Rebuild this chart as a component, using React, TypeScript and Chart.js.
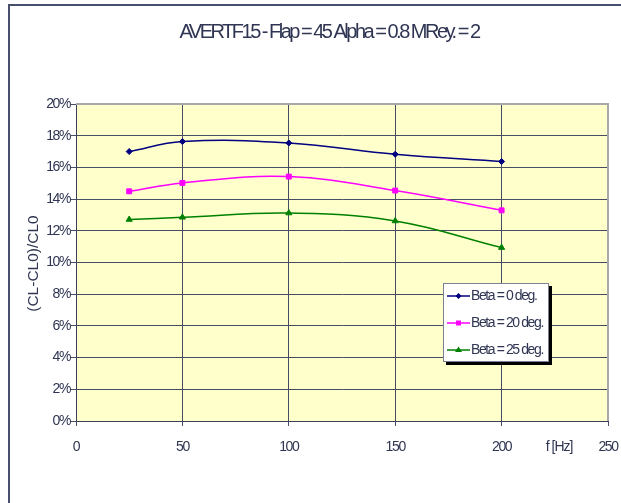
import React, { useEffect, useRef } from 'react';
import { Chart, registerables } from 'chart.js';

Chart.register(...registerables);

// ---- data ----
const freqs = [25, 50, 100, 150, 200];
const beta0 = [0.170, 0.1763, 0.1754, 0.1683, 0.1637];
const beta20 = [0.1449, 0.1502, 0.1542, 0.1454, 0.1329];
const beta25 = [0.1271, 0.1285, 0.1312, 0.1262, 0.1094];
const seriesLabels = ['Beta = 0 deg.', 'Beta = 20 deg.', 'Beta = 25 deg.'];
const seriesColors = ['#000080', '#FF00FF', '#008000'];
const seriesMarkers = ['rectRot', 'rect', 'triangle'];
const titleText = 'AVERTF15 - Flap = 45 Alpha = 0.8 MRey. = 2';
const yTitleText = '(CL-CL0)/CL0';
const xTitleText = 'f [Hz]';

const TEXT = '#2F3552';
const GRID = '#474D63';
const FONT = '"Liberation Sans", Arial, sans-serif';

function drawMarker(ctx: CanvasRenderingContext2D, kind: string, x: number, y: number, color: string) {
  ctx.fillStyle = color;
  ctx.beginPath();
  if (kind === 'rectRot') {
    const r = 3;
    ctx.moveTo(x, y - r); ctx.lineTo(x + r, y); ctx.lineTo(x, y + r); ctx.lineTo(x - r, y);
  } else if (kind === 'rect') {
    const s = 2.5;
    ctx.rect(x - s, y - s, 2 * s, 2 * s);
  } else {
    const r = 3.5;
    ctx.moveTo(x, y - r); ctx.lineTo(x + r, y + r * 0.6); ctx.lineTo(x - r, y + r * 0.6);
  }
  ctx.closePath();
  ctx.fill();
}

const decorPlugin = {
  id: 'decor',
  beforeDraw(chart: any) {
    const { ctx, chartArea: a } = chart;
    ctx.save();
    ctx.fillStyle = '#FFFFFF';
    ctx.fillRect(0, 0, chart.width, chart.height);
    ctx.fillStyle = '#48506E';
    ctx.fillRect(8, 4, chart.width - 8, 2);
    ctx.fillRect(8, 4, 2, chart.height - 4);
    ctx.fillStyle = '#FFFFCC';
    ctx.fillRect(a.left, a.top, a.right - a.left, a.bottom - a.top);
    ctx.restore();
    (ctx as any).letterSpacing = '-1.4px';
  },
  afterDraw(chart: any) {
    const { ctx, chartArea: a, scales } = chart;
    ctx.save();
    // gray top/right border of plot
    ctx.fillStyle = '#A8A8A8';
    ctx.fillRect(a.left, a.top - 1, a.right - a.left + 1, 2);
    ctx.fillRect(a.right - 1, a.top - 1, 2, a.bottom - a.top + 1);

    // title
    (ctx as any).letterSpacing = '-2.5px';
    ctx.font = `20px ${FONT}`;
    ctx.fillStyle = TEXT;
    ctx.textAlign = 'center';
    ctx.textBaseline = 'alphabetic';
    ctx.fillText(titleText, 329, 38);

    // x axis title next to tick labels
    (ctx as any).letterSpacing = '-1px';
    ctx.font = `14px ${FONT}`;
    ctx.textBaseline = 'middle';
    ctx.fillText(xTitleText, scales.x.getPixelForValue(227), 447.5);

    // y axis title
    (ctx as any).letterSpacing = '0px';
    ctx.save();
    ctx.translate(33.5, (a.top + a.bottom) / 2 + 1);
    ctx.rotate(-Math.PI / 2);
    ctx.font = `15.5px ${FONT}`;
    ctx.textAlign = 'center';
    ctx.textBaseline = 'middle';
    ctx.fillText(yTitleText, 0, 0);
    ctx.restore();

    // legend
    const lx = 443, ly = 283, lw = 106, lh = 79;
    ctx.fillStyle = '#000000';
    ctx.fillRect(lx + 3, ly + 3, lw, lh);
    ctx.fillStyle = '#FFFFFF';
    ctx.fillRect(lx, ly, lw, lh);
    ctx.strokeStyle = '#7C8094';
    ctx.lineWidth = 1;
    ctx.strokeRect(lx + 0.5, ly + 0.5, lw - 1, lh - 1);
    (ctx as any).letterSpacing = '-1.4px';
    ctx.font = `14px ${FONT}`;
    ctx.textAlign = 'left';
    ctx.textBaseline = 'middle';
    for (let i = 0; i < seriesLabels.length; i++) {
      const y = ly + 13 + i * 27;
      ctx.strokeStyle = seriesColors[i];
      ctx.lineWidth = 1.5;
      ctx.beginPath();
      ctx.moveTo(lx + 4, y);
      ctx.lineTo(lx + 27, y);
      ctx.stroke();
      drawMarker(ctx, seriesMarkers[i], lx + 15.5, y, seriesColors[i]);
      ctx.fillStyle = TEXT;
      ctx.fillText(seriesLabels[i], lx + 28, y);
    }
    ctx.restore();
  },
};

export default function App() {
  const ref = useRef<HTMLCanvasElement | null>(null);
  useEffect(() => {
    if (!ref.current) return;
    const seriesValues = [beta0, beta20, beta25];
    const chart = new Chart(ref.current, {
      type: 'line',
      data: {
        datasets: seriesValues.map((vals, i) => ({
          label: seriesLabels[i],
          data: freqs.map((f, j) => ({ x: f, y: vals[j] })),
          borderColor: seriesColors[i],
          backgroundColor: seriesColors[i],
          borderWidth: 1.5,
          tension: 0.4,
          pointStyle: seriesMarkers[i] as any,
          pointRadius: i === 0 ? 3 : 3.5,
          pointBorderWidth: 1,
          fill: false,
        })),
      },
      options: {
        responsive: false,
        animation: false,
        devicePixelRatio: 1,
        layout: { padding: { left: 0, right: 13, top: 104, bottom: 0 } },
        plugins: {
          legend: { display: false },
          title: { display: false },
          tooltip: { enabled: false },
        },
        scales: {
          x: {
            type: 'linear',
            min: 0,
            max: 250,
            afterFit: (s: any) => { s.height = 82; s.paddingLeft = 0; s.paddingRight = 0; },
            ticks: { stepSize: 50, color: TEXT, font: { family: FONT, size: 14 }, padding: 13, maxRotation: 0 },
            grid: { color: GRID, lineWidth: 1, tickLength: 5, drawTicks: true },
            border: { color: '#3A4058', width: 1 },
          },
          y: {
            type: 'linear',
            min: 0,
            max: 0.2,
            afterFit: (s: any) => { s.width = 76; s.paddingTop = 0; s.paddingBottom = 0; },
            ticks: {
              stepSize: 0.02,
              color: TEXT,
              font: { family: FONT, size: 14 },
              padding: 1,
              callback: (v: any) => Math.round(Number(v) * 100) + '%',
            },
            grid: { color: GRID, lineWidth: 1, tickLength: 5, drawTicks: true },
            border: { color: '#3A4058', width: 1 },
          },
        },
      },
      plugins: [decorPlugin],
    });
    return () => chart.destroy();
  }, []);
  return (
    <div style={{ position: 'fixed', left: 0, top: 0, width: 621, height: 503 }}>
      <canvas ref={ref} width={621} height={503} style={{ display: 'block', width: 621, height: 503 }} />
    </div>
  );
}
